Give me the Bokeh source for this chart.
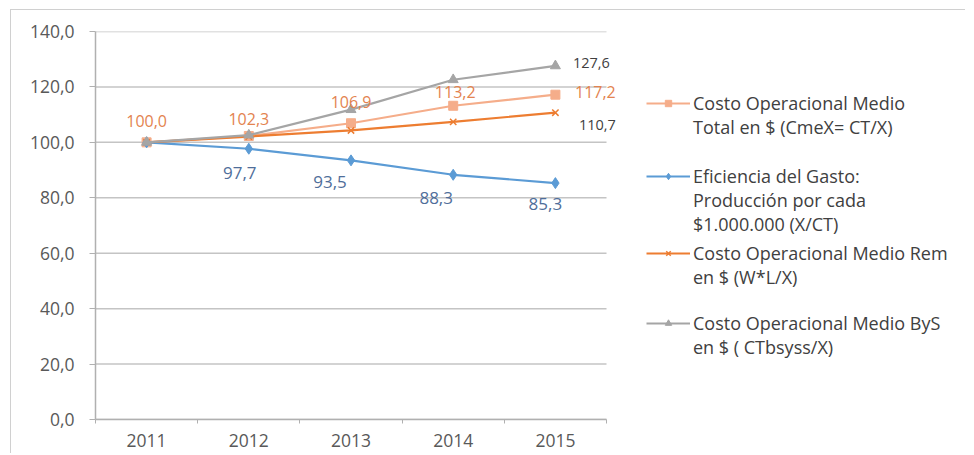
from bokeh.plotting import figure
from bokeh.models import Range1d, FixedTicker, Legend, LegendItem
from bokeh.embed import file_html
from bokeh.resources import INLINE
from bokeh.core.properties import value

# ---------------- data ----------------
years = ["2011", "2012", "2013", "2014", "2015"]
total = [100.0, 102.3, 106.9, 113.2, 117.2]
eficiencia = [100.0, 97.7, 93.5, 88.3, 85.3]
rem = [100.0, 102.1, 104.3, 107.4, 110.7]
bys = [100.0, 102.6, 111.8, 122.6, 127.6]
y_ticks = [0, 20, 40, 60, 80, 100, 120, 140]
y_tick_labels = ["0,0", "20,0", "40,0", "60,0", "80,0", "100,0", "120,0", "140,0"]
legend_labels = [
    "Costo Operacional Medio\nTotal en $ (CmeX= CT/X)",
    "Eficiencia del Gasto:\nProducción por cada\n$1.000.000 (X/CT)",
    "Costo Operacional Medio Rem\nen $ (W*L/X)",
    "Costo Operacional Medio ByS\nen $ ( CTbsyss/X)",
]

FONT = "Open Sans"
C_TOTAL = "#F5AD8A"
C_EFIC = "#5B9BD5"
C_REM = "#ED7D31"
C_BYS = "#A5A5A5"
GRID = "#c4c4c4"
AXIS = "#b0b0b0"

def fmt(v):
    return f"{v:.1f}".replace(".", ",")

n = len(years)
xs = [i + 0.5 for i in range(n)]

FRAME_W_PLOT = 511   # pixel width of the category area
FRAME_W = 866        # full frame width (legend lives inside the frame, to the right)

p = figure(width=955, height=444,
           x_range=Range1d(0, n * FRAME_W / FRAME_W_PLOT), y_range=Range1d(0, 140),
           output_backend="svg", toolbar_location=None,
           min_border_left=84, min_border_right=5, min_border_top=21, min_border_bottom=35,
           margin=(9, 0, 0, 10))
p.styles = {"border-top": "1px solid #d0d0d0", "border-left": "1px solid #d0d0d0"}
p.outline_line_color = None
p.xgrid.grid_line_color = None
p.ygrid.grid_line_color = None

# horizontal gridlines limited to the category area
p.segment(x0=[0] * len(y_ticks), x1=[n] * len(y_ticks), y0=y_ticks, y1=y_ticks,
          line_color=GRID, line_width=1.5)

# y axis
p.yaxis.ticker = FixedTicker(ticks=y_ticks)
p.yaxis.major_label_overrides = {t: l for t, l in zip(y_ticks, y_tick_labels)}
p.yaxis.axis_line_color = AXIS
p.yaxis.axis_line_width = 1.5
p.yaxis.major_tick_line_color = AXIS
p.yaxis.major_tick_out = 6
p.yaxis.major_tick_in = 0
p.yaxis.minor_tick_line_color = None
p.yaxis.major_label_text_font = FONT
p.yaxis.major_label_text_font_size = "17.5px"
p.yaxis.major_label_text_color = "#595959"
p.yaxis.major_label_standoff = 15

# x axis
p.xaxis.bounds = (0, n)
p.xaxis.ticker = FixedTicker(ticks=xs, minor_ticks=list(range(n + 1)))
p.xaxis.major_label_overrides = {x: y for x, y in zip(xs, years)}
p.xaxis.axis_line_color = AXIS
p.xaxis.axis_line_width = 1.5
p.xaxis.major_tick_line_color = None
p.xaxis.minor_tick_line_color = AXIS
p.xaxis.minor_tick_out = 4
p.xaxis.minor_tick_in = 0
p.xaxis.major_label_text_font = FONT
p.xaxis.major_label_text_font_size = "17.5px"
p.xaxis.major_label_text_color = "#595959"
p.xaxis.major_label_standoff = 8

# series
l_total = p.line(xs, total, line_color=C_TOTAL, line_width=2.2)
m_total = p.scatter(xs, total, marker="square", size=9, fill_color=C_TOTAL, line_color=C_TOTAL)
l_efic = p.line(xs, eficiencia, line_color=C_EFIC, line_width=2.2)
m_efic = p.scatter(xs, eficiencia, marker="diamond", size=11, fill_color=C_EFIC, line_color=C_EFIC)
l_rem = p.line(xs, rem, line_color=C_REM, line_width=2.2)
m_rem = p.scatter(xs, rem, marker="x", size=9, line_color=C_REM, line_width=1.5)
l_bys = p.line(xs, bys, line_color=C_BYS, line_width=2.2)
m_bys = p.scatter(xs, bys, marker="triangle", size=10, fill_color=C_BYS, line_color=C_BYS)

# data labels
p.text(xs, total, text=[fmt(v) for v in total],
       x_offset=[0, 0, 0, 2, 40], y_offset=[-21, -17, -21, -14, -3],
       text_font=value(FONT), text_font_size="16px", text_color="#E3834F",
       text_align="center", text_baseline="middle")
p.text(xs[1:], eficiencia[1:], text=[fmt(v) for v in eficiencia[1:]],
       x_offset=[-9, -21, -17, -10], y_offset=[24, 22, 23, 21],
       text_font=value(FONT), text_font_size="17px", text_color="#4F6E9A",
       text_align="center", text_baseline="middle")
p.text(xs[-1:], bys[-1:], text=[fmt(bys[-1])], x_offset=36, y_offset=-3,
       text_font=value(FONT), text_font_size="14.5px", text_color="#404040",
       text_align="center", text_baseline="middle")
p.text(xs[-1:], rem[-1:], text=[fmt(rem[-1])], x_offset=42, y_offset=12,
       text_font=value(FONT), text_font_size="14.5px", text_color="#404040",
       text_align="center", text_baseline="middle")

# legends (one per entry, to reproduce spacing); glyph sits next to the first line
entries = [([l_total, m_total], 280), ([l_efic, m_efic], 183), ([l_rem, m_rem], 130), ([l_bys, m_bys], 60)]
for (rends, ypos), lab in zip(entries, legend_labels):
    lines = lab.split("\n")
    items = [LegendItem(label=lines[0], renderers=rends)]
    items += [LegendItem(label=ln, renderers=[]) for ln in lines[1:]]
    lg = Legend(items=items, location=(551, ypos), spacing=0,
                padding=0, margin=0, border_line_alpha=0, background_fill_alpha=0,
                glyph_width=44, glyph_height=16, label_height=16, label_standoff=3,
                label_text_font=FONT, label_text_font_size="18px",
                label_text_color="#404040", label_text_line_height=1.0)
    p.add_layout(lg, "center")

open("out.html", "w").write(file_html(p, INLINE))
